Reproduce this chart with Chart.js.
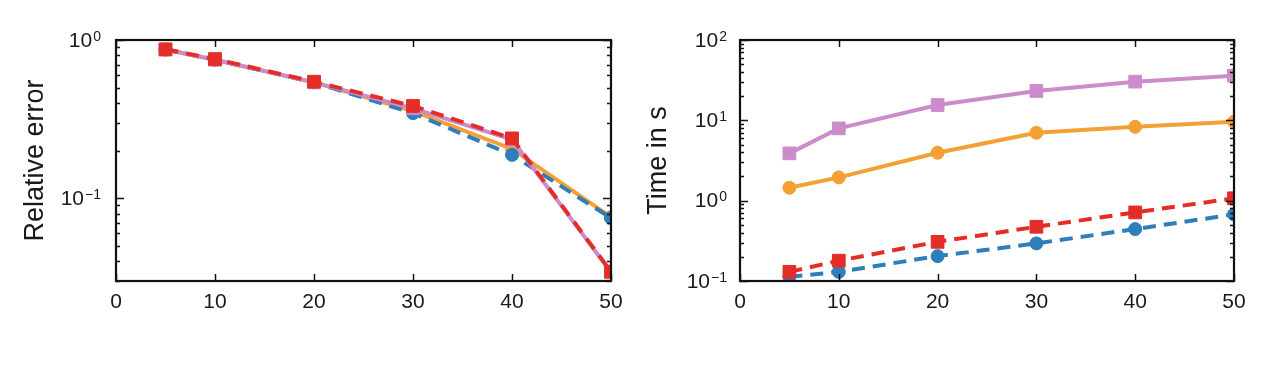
<!DOCTYPE html>
<html><head><meta charset="utf-8">
<script src="https://cdn.jsdelivr.net/npm/chart.js@4.4.0/dist/chart.umd.min.js"></script>
<style>
html,body{margin:0;padding:0;background:#fff;}
#wrap{position:relative;width:1275px;height:375px;}
.c{position:absolute;top:0;}
</style></head><body>
<div id="wrap">
<canvas id="c1" class="c" style="left:0" width="637" height="375"></canvas>
<canvas id="c2" class="c" style="left:637px" width="638" height="375"></canvas>
</div>
<script>
// ---- data ----
const nValues = [5, 10, 20, 30, 40, 50];
const errBlue   = [0.87, 0.75, 0.54, 0.345, 0.188, 0.075];
const errOrange = [0.87, 0.75, 0.54, 0.355, 0.205, 0.076];
const errPurple = [0.87, 0.75, 0.54, 0.37, 0.235, 0.034];
const errRed    = [0.873, 0.758, 0.545, 0.383, 0.239, 0.0344];
const timeBlue   = [0.113, 0.13, 0.204, 0.294, 0.443, 0.675];
const timeOrange = [1.45, 1.95, 3.95, 7.0, 8.3, 9.6];
const timePurple = [3.88, 7.94, 15.5, 23.2, 30.3, 36];
const timeRed    = [0.13, 0.179, 0.307, 0.473, 0.714, 1.07];
const xTickValues = [0, 10, 20, 30, 40, 50];
const errDecadeTicks = [-1, 0];          // exponents of labelled ticks
const timeDecadeTicks = [-1, 0, 1, 2];
const errTitle = 'Relative error';
const timeTitle = 'Time in s';

const BLUE = '#2f7ebc', ORANGE = '#f5a034', PURPLE = '#cc8ccc', RED = '#e42d29';
const TXT = '#1a1a1a';
const FAM = '"Liberation Sans", Arial, sans-serif';

function ds(vals, color, style, dashed, order) {
  return {
    data: vals.map((v, i) => ({x: nValues[i], y: v})),
    borderColor: color, backgroundColor: color,
    pointBackgroundColor: color, pointBorderColor: color, pointBorderWidth: 1,
    pointStyle: style, pointRadius: style === 'rect' ? 9 : 6.5,
    borderWidth: 4, borderDash: dashed ? [13, 8] : [], tension: 0,
    order: order
  };
}

const framePlugin = {
  id: 'frame',
  afterDatasetsDraw(chart, args, opts) {
    const {ctx, chartArea: a} = chart;
    const xs = chart.scales.x, ys = chart.scales.y;
    ctx.save();
    ctx.strokeStyle = '#111';
    ctx.lineWidth = 1.5;
    ctx.beginPath();
    xTickValues.forEach(v => {
      const px = Math.round(xs.getPixelForValue(v)) + 0.5;
      ctx.moveTo(px, a.top); ctx.lineTo(px, a.top + 7);
      ctx.moveTo(px, a.bottom); ctx.lineTo(px, a.bottom - 7);
    });
    const lo = Math.floor(Math.log10(ys.min)), hi = Math.ceil(Math.log10(ys.max));
    for (let d = lo; d <= hi; d++) {
      for (let m = 1; m <= 9; m++) {
        const v = m * Math.pow(10, d);
        if (v < ys.min * 0.999 || v > ys.max * 1.001) continue;
        const py = Math.round(ys.getPixelForValue(v)) + 0.5;
        const len = m === 1 ? 8 : 4;
        ctx.moveTo(a.left, py); ctx.lineTo(a.left + len, py);
        ctx.moveTo(a.right, py); ctx.lineTo(a.right - len, py);
      }
    }
    ctx.stroke();
    ctx.lineWidth = 2.2;
    ctx.strokeRect(a.left, a.top, a.right - a.left, a.bottom - a.top);
    ctx.fillStyle = TXT;
    opts.decades.forEach(k => {
      const py = ys.getPixelForValue(Math.pow(10, k));
      const exp = k < 0 ? '\u2212' + Math.abs(k) : String(k);
      ctx.font = '14px ' + FAM;
      const ew = ctx.measureText(exp).width;
      ctx.font = '21px ' + FAM;
      const bw = ctx.measureText('10').width;
      const right = a.left - opts.gap;
      ctx.textBaseline = 'middle';
      ctx.textAlign = 'left';
      ctx.fillText('10', right - ew - bw - 1, py + 1);
      ctx.font = '14px ' + FAM;
      ctx.textBaseline = 'alphabetic';
      ctx.fillText(exp, right - ew, py + 0.5);
    });
    ctx.restore();
  }
};

function makeChart(id, datasets, ymin, ymax, title, padRight, yWidth, titlePad, decades, gap) {
  return new Chart(document.getElementById(id), {
    type: 'line',
    data: {datasets},
    options: {
      responsive: false, animation: false,
      layout: {padding: {left: 0, top: 40, right: padRight, bottom: 54}},
      plugins: {legend: {display: false}, tooltip: {enabled: false}, frame: {decades, gap}},
      scales: {
        x: {
          type: 'linear', min: 0, max: 50,
          afterBuildTicks: s => { s.ticks = xTickValues.map(v => ({value: v})); },
          afterFit: s => { s.height = 40; },
          grid: {display: false, drawTicks: false}, border: {display: false},
          ticks: {color: TXT, padding: 9, font: {size: 21, family: FAM}, maxRotation: 0}
        },
        y: {
          type: 'logarithmic', min: ymin, max: ymax,
          afterFit: s => { s.width = yWidth; },
          grid: {display: false, drawTicks: false}, border: {display: false},
          ticks: {display: false},
          title: {display: true, text: title, color: TXT, padding: {top: titlePad, bottom: 0},
                  font: {size: 27, family: FAM}}
        }
      }
    },
    plugins: [framePlugin]
  });
}

makeChart('c1', [
  ds(errOrange, ORANGE, 'circle', false, 4),
  ds(errBlue, BLUE, 'circle', true, 3),
  ds(errPurple, PURPLE, 'rect', false, 2),
  ds(errRed, RED, 'rect', true, 1)
], 0.03, 1, errTitle, 26, 116, 19, errDecadeTicks, 15);

makeChart('c2', [
  ds(timeOrange, ORANGE, 'circle', false, 4),
  ds(timeBlue, BLUE, 'circle', true, 3),
  ds(timePurple, PURPLE, 'rect', false, 2),
  ds(timeRed, RED, 'rect', true, 1)
], 0.1, 100, timeTitle, 41, 103, 5, timeDecadeTicks, 13);
</script>
</body></html>
